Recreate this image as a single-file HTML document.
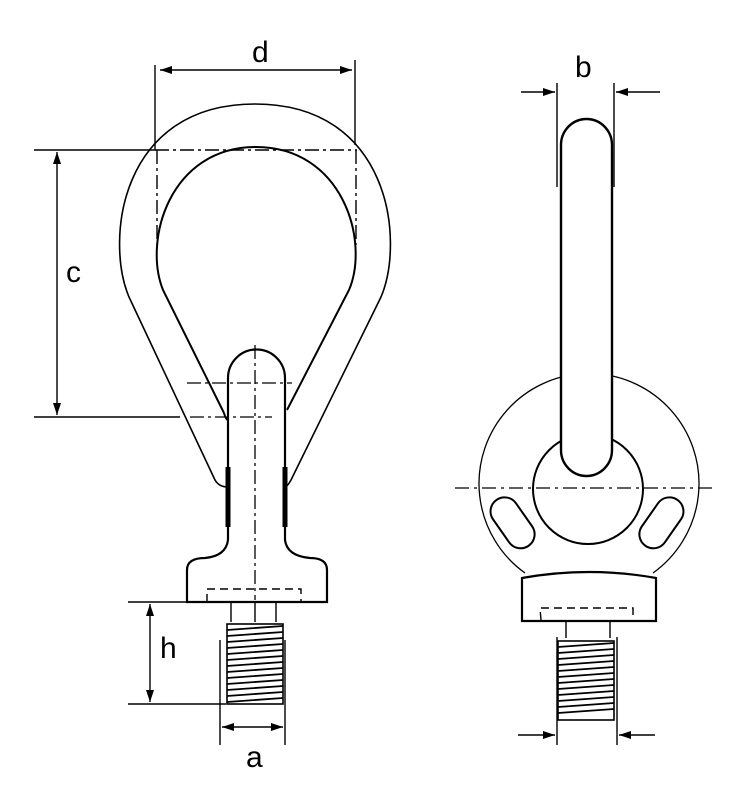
<!DOCTYPE html>
<html><head><meta charset="utf-8"><style>
html,body{margin:0;padding:0;background:#fff;}
svg{display:block;}
text{font-family:"Liberation Sans","DejaVu Sans",sans-serif;font-size:30px;fill:#000;}
</style></head><body>
<svg width="734" height="800" viewBox="0 0 734 800" xmlns="http://www.w3.org/2000/svg">
<defs>
<marker id="ar" viewBox="0 0 12 8" refX="12" refY="4" markerWidth="12" markerHeight="8" orient="auto-start-reverse" markerUnits="userSpaceOnUse">
<path d="M0,0 L12,4 L0,8 Z" fill="#000"/></marker>
</defs>
<g fill="none" stroke="#000">
<path d="M215,480 Q219,487 228,487 M215,480 L129,297 C105,240 120,104 255,104 C390,104 405,240 381,297 L291,480 Q287,487 285,487" stroke-width="1.6"/>
<path d="M224,413 Q226,420 228,420 M224,413 L163,290 C143,240 170,147 256,147 C342,147 370,240 349,290 L287,410" stroke-width="2"/>
<line x1="155" y1="65" x2="155" y2="150" stroke-width="1.4"/>
<line x1="355" y1="60" x2="355" y2="145" stroke-width="1.4"/>
<line x1="160" y1="70" x2="352" y2="70" stroke-width="1.4" marker-start="url(#ar)" marker-end="url(#ar)"/>
<line x1="34" y1="150" x2="155" y2="150" stroke-width="1.4"/>
<line x1="34" y1="417" x2="180" y2="417" stroke-width="1.6"/>
<line x1="57" y1="152" x2="57" y2="415" stroke-width="1.4" marker-start="url(#ar)" marker-end="url(#ar)"/>
<path d="M155,150 L357,150 M157,150 L157,245 M356,150 L356,245" stroke-width="1.4" stroke-dasharray="14,4,3,4"/>
<path d="M228,540 L228,378 A28.5,28.5 0 0 1 285,378 L285,540 Q287,556 310,558 Q327,558 327,570 L327,602 L187,602 L187,570 Q187,558 205,558 Q226,556 228,540" stroke-width="2.2" fill="#fff"/>
<line x1="228" y1="467" x2="228" y2="527" stroke-width="5"/>
<line x1="285" y1="467" x2="285" y2="527" stroke-width="5"/>
<path d="M255,345 L255,600" stroke-width="1.3" stroke-dasharray="14,4,3,4"/>
<path d="M187,383 L292,383 M190,417 L272,417" stroke-width="1.3" stroke-dasharray="14,4,3,4"/>
<path d="M207,602 L207,589 L301,589 L301,602" stroke-width="1.4" stroke-dasharray="8,5"/>
<path d="M231,602 L231,622 M276,602 L276,622 M255,602 L255,622" stroke-width="1.4"/>
<rect x="227" y="624" width="56" height="80" stroke-width="1.6"/>
<path d="M227,630 L283,626 M227,636 L283,632 M227,642 L283,638 M227,648 L283,644 M227,654 L283,650 M227,660 L283,656 M227,666 L283,662 M227,672 L283,668 M227,678 L283,674 M227,684 L283,680 M227,690 L283,686 M227,696 L283,692 M227,702 L283,698" stroke-width="1.8"/>
<line x1="128" y1="602" x2="187" y2="602" stroke-width="1.4"/>
<line x1="128" y1="704" x2="226" y2="704" stroke-width="1.4"/>
<line x1="150" y1="604" x2="150" y2="702" stroke-width="1.4" marker-start="url(#ar)" marker-end="url(#ar)"/>
<line x1="220" y1="640" x2="220" y2="745" stroke-width="1.4"/>
<line x1="285" y1="640" x2="285" y2="745" stroke-width="1.4"/>
<line x1="222" y1="727" x2="283" y2="727" stroke-width="1.4" marker-start="url(#ar)" marker-end="url(#ar)"/>

<path d="M525,573 A110,110 0 1 1 653,573" stroke-width="1.3"/>
<circle cx="588" cy="489" r="55" stroke-width="2"/>
<rect x="498" y="495" width="28" height="56" rx="14" transform="rotate(-35 512 522)" stroke-width="2" fill="#fff"/>
<rect x="648" y="495" width="28" height="56" rx="14" transform="rotate(35 662 522)" stroke-width="2" fill="#fff"/>
<path d="M561,450 L561,145 A25.5,26 0 0 1 612,145 L612,450 A25.5,26 0 0 1 561,450 Z" stroke-width="2.4" fill="#fff"/>
<path d="M455,488 L715,488" stroke-width="1.3" stroke-dasharray="14,5,3,5"/>
<path d="M522,578 Q589,566 656,578 L656,621 L522,621 Z" stroke-width="2.2" fill="#fff"/>
<path d="M541,620 L540,608 L633,608 L633,621" stroke-width="1.4" stroke-dasharray="8,5"/>
<path d="M566,621 L566,638 M610,621 L610,638" stroke-width="1.4"/>
<rect x="558" y="641" width="56" height="79" stroke-width="1.6"/>
<path d="M558,647 L614,643 M558,653 L614,649 M558,659 L614,655 M558,665 L614,661 M558,671 L614,667 M558,677 L614,673 M558,683 L614,679 M558,689 L614,685 M558,695 L614,691 M558,701 L614,697 M558,707 L614,703 M558,713 L614,709" stroke-width="1.8"/>
<line x1="557" y1="637" x2="557" y2="745" stroke-width="1.4"/>
<line x1="617" y1="637" x2="617" y2="745" stroke-width="1.4"/>
<line x1="518" y1="735" x2="555" y2="735" stroke-width="1.4" marker-end="url(#ar)"/>
<line x1="655" y1="735" x2="619" y2="735" stroke-width="1.4" marker-end="url(#ar)"/>
<line x1="557" y1="83" x2="557" y2="187" stroke-width="1.4"/>
<line x1="614" y1="83" x2="614" y2="187" stroke-width="1.4"/>
<line x1="521" y1="92" x2="555" y2="92" stroke-width="1.4" marker-end="url(#ar)"/>
<line x1="660" y1="92" x2="616" y2="92" stroke-width="1.4" marker-end="url(#ar)"/>
</g>
<text x="252" y="62">d</text>
<text x="575" y="77">b</text>
<text x="66" y="282">c</text>
<text x="160" y="658">h</text>
<text x="246" y="767">a</text>
</svg>
</body></html>
